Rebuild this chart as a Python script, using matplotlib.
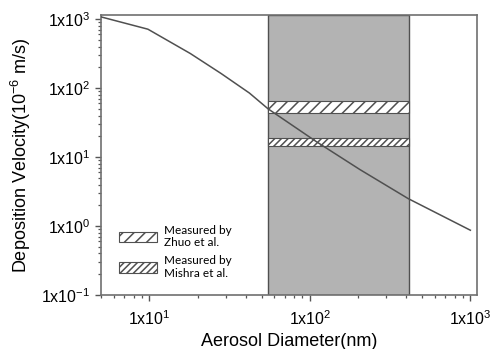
import matplotlib
matplotlib.use("Agg")
import matplotlib.pyplot as plt
from matplotlib.ticker import FuncFormatter, LogLocator, NullFormatter
import numpy as np

# curve
diameter = [5, 9.8, 18, 28, 42, 55, 110, 205, 410, 1000]
velocity = [1080, 716, 318, 163, 85, 50, 16.7, 6.6, 2.5, 0.87]

# measured ranges
band_x = [55, 415]
zhuo = (44, 66)
mishra = (14.5, 19)

plt.rcParams['font.family'] = ['Liberation Sans', 'DejaVu Sans']
plt.rcParams['mathtext.fontset'] = 'custom'
plt.rcParams['mathtext.rm'] = 'Liberation Sans'
plt.rcParams['mathtext.it'] = 'Liberation Sans'
plt.rcParams['mathtext.default'] = 'regular'
plt.rcParams['hatch.linewidth'] = 1.1

fig = plt.figure(figsize=(4.91, 3.49), dpi=100)
ax = fig.add_axes([0.2057, 0.1547, 0.7658, 0.8023])

ax.axvspan(band_x[0], band_x[1], facecolor='#b3b3b3', edgecolor='#505050', lw=1.0, zorder=1)
ax.fill_between(band_x, zhuo[0], zhuo[1], facecolor='white', edgecolor='#505050',
                hatch='///', lw=0.8, zorder=2, label='Measured by\nZhuo et al.')
ax.fill_between(band_x, mishra[0], mishra[1], facecolor='white', edgecolor='#505050',
                hatch='/////', lw=0.8, zorder=2, label='Measured by\nMishra et al.')
ax.plot(diameter, velocity, color='#505050', lw=1.1, zorder=3)

ax.set_xscale('log')
ax.set_yscale('log')
ax.set_xlim(5, 1100)
ax.set_ylim(0.1, 1150)

fmt = FuncFormatter(lambda v, p: r'1x10$^{%d}$' % round(np.log10(v)))
for axis in (ax.xaxis, ax.yaxis):
    axis.set_major_locator(LogLocator(base=10, numticks=10))
    axis.set_minor_locator(LogLocator(base=10, subs=np.arange(2, 10), numticks=20))
    axis.set_major_formatter(fmt)
    axis.set_minor_formatter(NullFormatter())
ax.tick_params(which='major', length=4, width=1, color='#555', labelsize=11.5)
ax.tick_params(which='minor', length=2.5, width=0.9, color='#555')
ax.tick_params(axis='x', which='major', pad=6)

for s in ax.spines.values():
    s.set_color('#707070')
    s.set_linewidth(1.2)

ax.set_xlabel('Aerosol Diameter(nm)', fontsize=13, labelpad=4)
ax.set_ylabel(r'Deposition Velocity(10$^{-6}$ m/s)', fontsize=13, labelpad=6)

leg = ax.legend(loc='lower left', bbox_to_anchor=(0.02, 0.02), frameon=False,
                prop={'family': 'Lato', 'size': 8.5}, handlelength=3.2, handleheight=1.0,
                labelspacing=0.55, handletextpad=0.6)

fig.savefig('out.png', dpi=100)
